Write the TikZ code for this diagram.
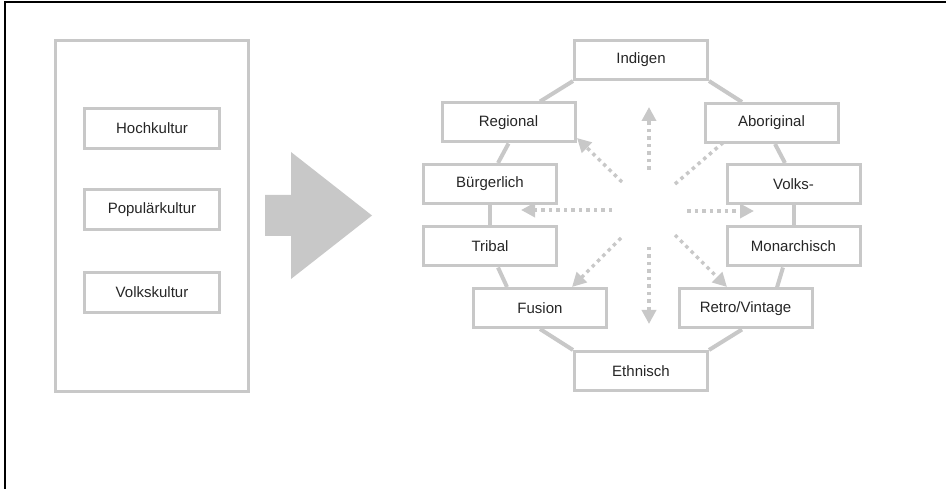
\documentclass[tikz,border=0pt]{standalone}
\usepackage{fontspec}
\setmainfont{Liberation Sans}
\usetikzlibrary{arrows.meta,backgrounds}
\definecolor{boxgray}{HTML}{C8C8C8}
\definecolor{txt}{HTML}{262626}
\begin{document}
\begin{tikzpicture}[x=1pt,y=-1pt,
  box/.style={draw=boxgray,line width=3pt,fill=white,minimum width=133pt,minimum height=39pt,inner sep=0pt,text=txt,font=\fontsize{15pt}{18pt}\selectfont},
  lbox/.style={box,minimum width=135pt,minimum height=40pt},
  ring/.style={draw=boxgray,line width=4pt},
  dots/.style={draw=boxgray,line width=3.5pt,dash pattern=on 3.5pt off 4pt,-{Triangle[length=14pt,width=14pt]}}
]
\useasboundingbox (0,0) rectangle (946,489);
% frame (top and left only)
\draw[black,line width=1.6pt] (5,489) -- (5,1.8) -- (946,1.8);

% left panel
\node[draw=boxgray,line width=3pt,minimum width=193pt,minimum height=351pt,inner sep=0pt] (panel) at (152,216) {};
\node[lbox] (hoch) at (152,128.5) {Hochkultur};
\node[lbox] (pop) at (152,210) {Populärkultur};
\node[lbox] (volk) at (152,292.5) {Volkskultur};

% big arrow
\fill[boxgray] (265,195) -- (291,195) -- (291,152) -- (372,215.5) -- (291,279) -- (291,236) -- (265,236) -- cycle;

% ring boxes
\node[box] (Ind) at (641,60)      {Indigen};
\node[box] (Reg) at (508.5,122.5) {Regional};
\node[box] (Bue) at (490,184)     {Bürgerlich};
\node[box] (Tri) at (490,246.5)   {Tribal};
\node[box] (Fus) at (540,308)     {Fusion};
\node[box] (Eth) at (641,371)     {Ethnisch};
\node[box] (Abo) at (771.5,123)   {Aboriginal};
\node[box] (Vol) at (793.5,184)   {Volks-};
\node[box] (Mon) at (793.5,246.5) {Monarchisch};
\node[box] (Ret) at (745.5,308.5) {Retro/Vintage};

\begin{pgfonlayer}{background}
% ring connectors
\draw[ring] (Ind.south west) -- ([xshift=31.5pt]Reg.north);
\draw[ring] (Reg.south) -- ([xshift=8pt]Bue.north);
\draw[ring] (Bue.south) -- (Tri.north);
\draw[ring] ([xshift=8pt]Tri.south) -- ([xshift=-33pt]Fus.north);
\draw[ring] (Fus.south) -- (Eth.north west);
\draw[ring] (Ind.south east) -- ([xshift=-29.5pt]Abo.north);
\draw[ring] ([xshift=3.5pt]Abo.south) -- ([xshift=-8.5pt]Vol.north);
\draw[ring] (Vol.south) -- (Mon.north);
\draw[ring] ([xshift=-10.5pt]Mon.south) -- ([xshift=31.5pt]Ret.north);
\draw[ring] ([xshift=-3.5pt]Ret.south) -- (Eth.north east);

% dotted arrows
\coordinate (cU) at (649,170);   \coordinate (tU) at (649,107);
\coordinate (cD) at (649,247);   \coordinate (tD) at (649,324);
\coordinate (cL) at (612,210);   \coordinate (tL) at (521,210);
\coordinate (cR) at (687,211);   \coordinate (tR) at (754,211);
\coordinate (cUL) at (622,182);  \coordinate (tUL) at (577,138);
\coordinate (cUR) at (675,184);  \coordinate (tUR) at (740,128);
\coordinate (cLL) at (621,238);  \coordinate (tLL) at (572,287);
\coordinate (cLR) at (675,235);  \coordinate (tLR) at (727,287);
\foreach \a in {U,D,L,R,UL,UR,LL,LR}{\draw[dots] (c\a) -- (t\a);}
\end{pgfonlayer}
\end{tikzpicture}
\end{document}
